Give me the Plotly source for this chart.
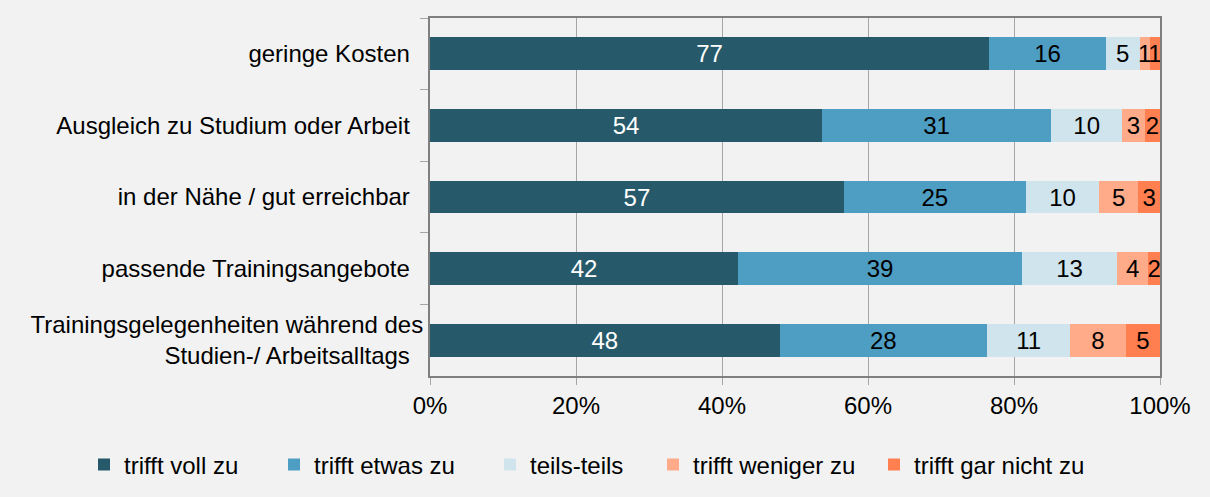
import plotly.graph_objects as go

categories = [
    "geringe Kosten",
    "Ausgleich zu Studium oder Arbeit",
    "in der Nähe / gut erreichbar",
    "passende Trainingsangebote",
    "Trainingsgelegenheiten während des<br>Studien-/ Arbeitsalltags",
]
series_names = ["trifft voll zu", "trifft etwas zu", "teils-teils", "trifft weniger zu", "trifft gar nicht zu"]
voll = [76.6, 53.7, 56.7, 42.2, 47.9]
etwas = [16.0, 31.4, 24.9, 38.9, 28.4]
teils = [4.6, 9.7, 10.1, 13.0, 11.4]
weniger = [1.4, 3.1, 5.3, 4.3, 7.6]
gar_nicht = [1.4, 2.1, 3.0, 1.6, 4.7]
x_ticks = [0, 20, 40, 60, 80, 100]

colors = ["#265A6B", "#4E9DC3", "#CFE4ED", "#FFAA88", "#FF7F50"]
text_colors = ["white", "black", "black", "black", "black"]
legend_x_px = [84, 274, 490, 653, 874]
FONT = "Liberation Sans, Arial"
FS = 24
W, H = 1210, 497

fig = go.Figure()
legend_layouts = {}
for i, (name, vals, c, tc) in enumerate(zip(series_names, [voll, etwas, teils, weniger, gar_nicht], colors, text_colors)):
    lg = "legend" if i == 0 else f"legend{i + 1}"
    fig.add_trace(go.Bar(
        y=categories, x=vals, name=name, orientation="h", legend=lg,
        marker=dict(color=c, line=dict(width=0)),
        text=[f"{v:.0f}" for v in vals], textposition="inside", insidetextanchor="middle",
        textangle=0,
        textfont=dict(color=tc, size=FS, family=FONT),
        constraintext="none", cliponaxis=False, hoverinfo="skip",
    ))
    legend_layouts[lg] = dict(
        orientation="h", xref="container", yref="container",
        x=legend_x_px[i] / W, xanchor="left", y=(H - 465) / H, yanchor="middle",
        font=dict(size=FS), bgcolor="rgba(0,0,0,0)", borderwidth=0,
    )

fig.update_layout(
    barmode="stack", bargap=0.54,
    width=W, height=H,
    paper_bgcolor="#F2F2F2", plot_bgcolor="#F2F2F2",
    margin=dict(l=430, r=50, t=18, b=121),
    font=dict(family=FONT, size=FS, color="black"),
    uniformtext=dict(minsize=FS, mode="show"),
    showlegend=True,
    **legend_layouts,
)
fig.update_xaxes(
    range=[0, 100], tickvals=x_ticks, ticktext=[f"{t}%" for t in x_ticks],
    showgrid=True, gridcolor="#A6A6A6", gridwidth=1,
    showline=True, linecolor="#7F7F7F", linewidth=2, mirror=True,
    ticks="outside", ticklen=7, tickcolor="#A6A6A6", zeroline=False,
    tickfont=dict(size=FS),
)
fig.update_yaxes(
    autorange="reversed", showline=True, linecolor="#7F7F7F", linewidth=2, mirror=True,
    ticks="outside", tickson="boundaries", ticklen=8, tickcolor="#A6A6A6",
    tickfont=dict(size=FS), ticksuffix="\u00a0\u00a0",
)

fig.write_html("out.html", config={"displayModeBar": False},
               post_script="document.body.style.margin='0';document.body.style.padding='0';")
